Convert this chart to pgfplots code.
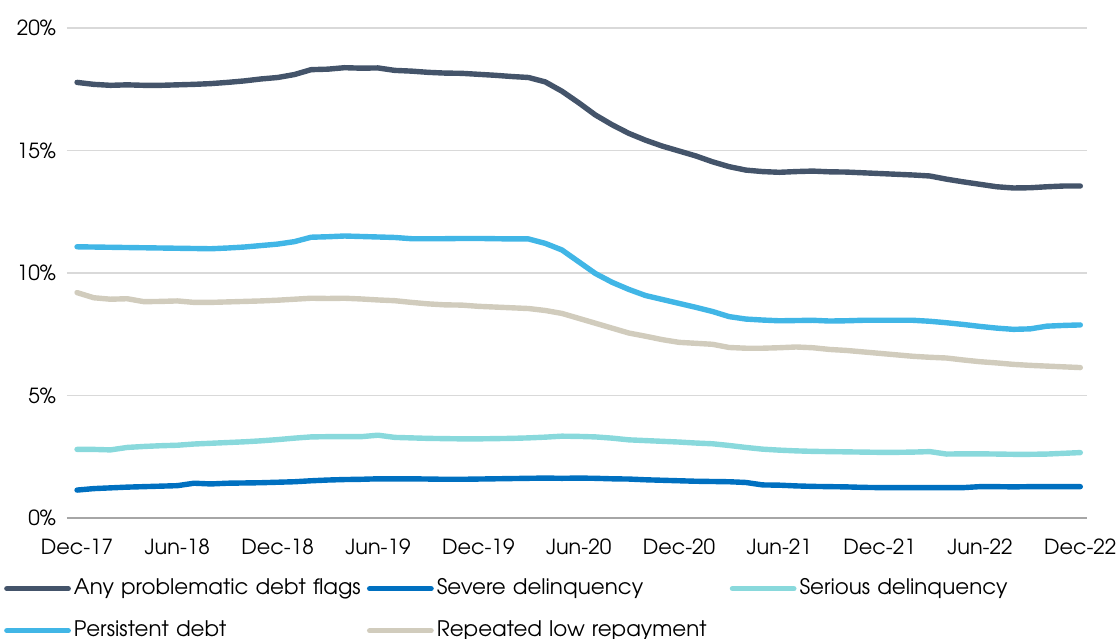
\documentclass[border=0pt]{standalone}
\usepackage{fontspec}
\setmainfont{TeX Gyre Adventor}
\usepackage{pgfplots}
\pgfplotsset{compat=1.18}
\usepackage{pgfplotstable}
\definecolor{cAny}{HTML}{44546A}
\definecolor{cSevere}{HTML}{0070C0}
\definecolor{cSerious}{HTML}{89D9DC}
\definecolor{cPersist}{HTML}{41B6E6}
\definecolor{cRepeat}{HTML}{D1CCBD}
\definecolor{cGrid}{HTML}{D9D9D9}
\hfuzz=50pt
\pgfplotstableread{
i A B C D E
0 17.78 11.07 9.20 2.80 1.14
1 17.70 11.06 8.99 2.80 1.20
2 17.66 11.05 8.93 2.78 1.23
3 17.68 11.04 8.95 2.88 1.26
4 17.66 11.03 8.83 2.92 1.28
5 17.66 11.02 8.84 2.95 1.30
6 17.68 11.01 8.86 2.97 1.32
7 17.70 11.00 8.80 3.02 1.42
8 17.73 10.99 8.80 3.05 1.39
9 17.78 11.02 8.82 3.08 1.42
10 17.84 11.06 8.84 3.11 1.43
11 17.92 11.12 8.86 3.15 1.44
12 17.98 11.18 8.89 3.20 1.46
13 18.10 11.28 8.93 3.26 1.48
14 18.30 11.46 8.97 3.31 1.52
15 18.32 11.48 8.96 3.32 1.55
16 18.38 11.51 8.97 3.32 1.57
17 18.36 11.49 8.94 3.32 1.58
18 18.37 11.47 8.90 3.38 1.60
19 18.27 11.45 8.87 3.29 1.60
20 18.24 11.40 8.80 3.27 1.60
21 18.19 11.40 8.74 3.25 1.59
22 18.16 11.40 8.70 3.24 1.58
23 18.15 11.41 8.69 3.23 1.58
24 18.11 11.41 8.64 3.23 1.59
25 18.07 11.40 8.61 3.24 1.60
26 18.02 11.39 8.58 3.25 1.61
27 17.98 11.39 8.55 3.27 1.62
28 17.80 11.21 8.47 3.30 1.63
29 17.42 10.94 8.35 3.34 1.62
30 16.95 10.46 8.15 3.33 1.63
31 16.45 9.98 7.95 3.31 1.62
32 16.05 9.62 7.75 3.26 1.60
33 15.70 9.33 7.55 3.19 1.59
34 15.42 9.08 7.42 3.16 1.56
35 15.18 8.92 7.28 3.13 1.54
36 14.98 8.76 7.17 3.10 1.52
37 14.78 8.60 7.13 3.06 1.50
38 14.54 8.43 7.09 3.03 1.49
39 14.34 8.22 6.96 2.96 1.48
40 14.20 8.12 6.93 2.88 1.45
41 14.14 8.08 6.93 2.81 1.35
42 14.11 8.05 6.95 2.77 1.34
43 14.14 8.06 6.98 2.74 1.31
44 14.16 8.07 6.95 2.72 1.29
45 14.13 8.04 6.88 2.71 1.28
46 14.12 8.05 6.84 2.70 1.27
47 14.09 8.07 6.78 2.69 1.25
48 14.06 8.07 6.72 2.68 1.24
49 14.03 8.07 6.66 2.68 1.24
50 14.00 8.07 6.60 2.69 1.24
51 13.96 8.03 6.56 2.71 1.24
52 13.83 7.97 6.53 2.61 1.24
53 13.72 7.90 6.45 2.62 1.24
54 13.62 7.82 6.38 2.62 1.28
55 13.52 7.75 6.33 2.61 1.28
56 13.47 7.70 6.27 2.60 1.27
57 13.48 7.72 6.23 2.60 1.28
58 13.52 7.83 6.20 2.61 1.28
59 13.55 7.86 6.17 2.64 1.28
60 13.55 7.88 6.14 2.67 1.28
}\data
\begin{document}
\begin{tikzpicture}
\begin{axis}[
  name=ax,
  scale only axis,
  width=510pt, height=245pt,
  xmin=-0.6, xmax=60.4, ymin=0, ymax=20,
  axis lines*=left,
  y axis line style={draw=none},
  x axis line style={draw=gray!70, line width=0.6pt},
  ytick={0,5,10,15,20},
  yticklabels={0\%,5\%,10\%,15\%,20\%},
  xtick={0,6,...,60},
  xticklabels={Dec-17,Jun-18,Dec-18,Jun-19,Dec-19,Jun-20,Dec-20,Jun-21,Dec-21,Jun-22,Dec-22},
  major tick length=0pt,
  ymajorgrids,
  grid style={draw=cGrid, line width=0.6pt},
  tick label style={font=\fontsize{10.4}{12}\selectfont, text=black},
  xticklabel style={yshift=-7pt},
  yticklabel style={xshift=-2pt},
  legend columns=3,
  legend style={at={(-0.062,-0.122)}, anchor=north west, draw=none, fill=none,
    inner sep=0pt, row sep=10.5pt,
    font=\fontsize{10.7}{13}\selectfont,
    nodes={inner xsep=1.5pt, inner ysep=0pt, text width=145pt, align=left, text height=8pt, text depth=2.5pt}},
  legend cell align=left,
  legend image code/.code={\draw[#1, line width=2.8pt, line cap=round] (1.4pt,0pt) -- (32pt,0pt);},
  every axis plot/.append style={line width=2.7pt, line join=round, line cap=round, no markers},
]
\addplot[cAny] table[x=i, y=A] {\data};
\addlegendentry{\mbox{Any problematic debt flags}}
\addplot[cSevere] table[x=i, y=E] {\data};
\addlegendentry{\mbox{Severe delinquency}}
\addplot[cSerious] table[x=i, y=D] {\data};
\addlegendentry{\mbox{Serious delinquency}}
\addplot[cPersist] table[x=i, y=B] {\data};
\addlegendentry{\mbox{Persistent debt}}
\addplot[cRepeat] table[x=i, y=C] {\data};
\addlegendentry{\mbox{Repeated low repayment}}
\end{axis}
\pgfresetboundingbox
\path[use as bounding box] ([xshift=-33.5pt,yshift=-60pt]ax.south west) rectangle ([xshift=526pt,yshift=259pt]ax.south west);
\end{tikzpicture}
\end{document}
